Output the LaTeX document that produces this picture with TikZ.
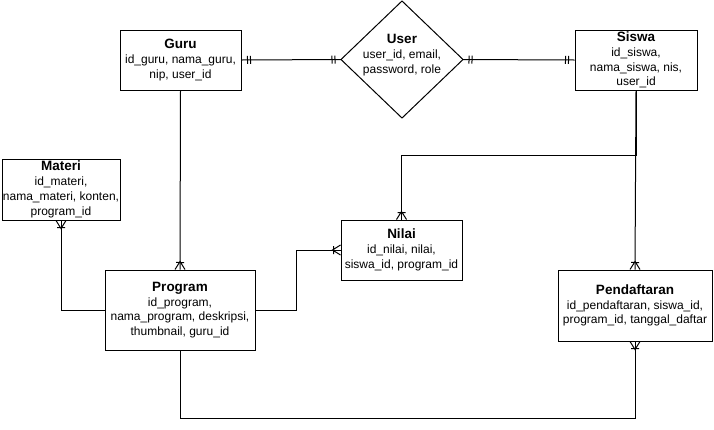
\documentclass[tikz,border=0pt]{standalone}
\usepackage{fontspec}
\setmainfont{Liberation Sans}
\usetikzlibrary{decorations.markings}
\newcommand\etitle[1]{{\fontsize{13.5}{15}\selectfont\bfseries #1}}
\begin{document}
\begin{tikzpicture}[x=1pt,y=1pt,line width=1pt,
  entity/.style={draw, fill=white, align=center, inner sep=0pt,
    font=\fontsize{12}{14.8}\selectfont},
  % mandatory one at both ends (double bar)
  onebars/.style={postaction={decorate,decoration={markings,
      mark=at position 0 with {\draw (6pt,-4pt) -- (6pt,4pt) (9pt,-4pt) -- (9pt,4pt);},
      mark=at position 1 with {\draw (-6pt,-4pt) -- (-6pt,4pt) (-9pt,-4pt) -- (-9pt,4pt);}}}},
  % one-to-many crow's foot at the end of the path
  crowend/.style={postaction={decorate,decoration={markings,
      mark=at position 1 with {\draw (0pt,5pt) -- (-8pt,0pt) -- (0pt,-5pt) (-7pt,-4pt) -- (-7pt,4pt);}}}},
  % one-to-many crow's foot at the start of the path
  crowstart/.style={postaction={decorate,decoration={markings,
      mark=at position 0 with {\draw (0pt,5pt) -- (8pt,0pt) -- (0pt,-5pt) (7pt,-4pt) -- (7pt,4pt);}}}},
  rel/.style={draw}]
\useasboundingbox (0,0) rectangle (714,-429);

% entities
\node[entity, minimum width=121, minimum height=60] (guru) at (180.5,-60)
  {\etitle{Guru}\\id\_guru, nama\_guru,\\nip, user\_id};
\node[entity, minimum width=122, minimum height=60] (siswa) at (636,-60)
  {\etitle{Siswa}\\id\_siswa,\\nama\_siswa, nis,\\user\_id};
\node[entity, minimum width=118, minimum height=61] (materi) at (61,-189.5)
  {\etitle{Materi}\\id\_materi,\\nama\_materi, konten,\\program\_id};
\node[entity, minimum width=121, minimum height=60] (nilai) at (401.5,-250)
  {\etitle{Nilai}\\id\_nilai, nilai,\\siswa\_id, program\_id};
\node[entity, minimum width=150, minimum height=80] (program) at (180,-310)
  {\etitle{Program}\\id\_program,\\nama\_program, deskripsi,\\thumbnail, guru\_id};
\node[entity, minimum width=154, minimum height=71] (pendaftaran) at (635,-305.5)
  {\etitle{Pendaftaran}\\id\_pendaftaran, siswa\_id,\\program\_id, tanggal\_daftar};

% User relationship diamond
\coordinate (uN) at (402,-1);
\coordinate (uE) at (463,-59.5);
\coordinate (uS) at (402,-118);
\coordinate (uW) at (341,-59.5);
\draw (uN) -- (uE) -- (uS) -- (uW) -- cycle;
\node[align=center, inner sep=0pt, font=\fontsize{12}{14.8}\selectfont] (user) at (402,-55)
  {\etitle{User}\\user\_id, email,\\password, role};

% relationships
\path[rel, onebars] (guru.east) -- (uW);
\path[rel, onebars] (uE) -- (siswa.west);
\path[rel, crowend] (guru.south) -- (program.north);
\path[rel, crowend] (siswa.south) -- (pendaftaran.north);
\path[rel, crowend] (siswa.south) -- ++(0,-65) -| (nilai.north);
\path[rel, crowend] (program.east) -- ++(41,0) |- (nilai.west);
\path[rel, crowstart] (materi.south) |- (program.west);
\path[rel, crowend] (program.south) -- ++(0,-68) -| (pendaftaran.south);
\end{tikzpicture}
\end{document}
